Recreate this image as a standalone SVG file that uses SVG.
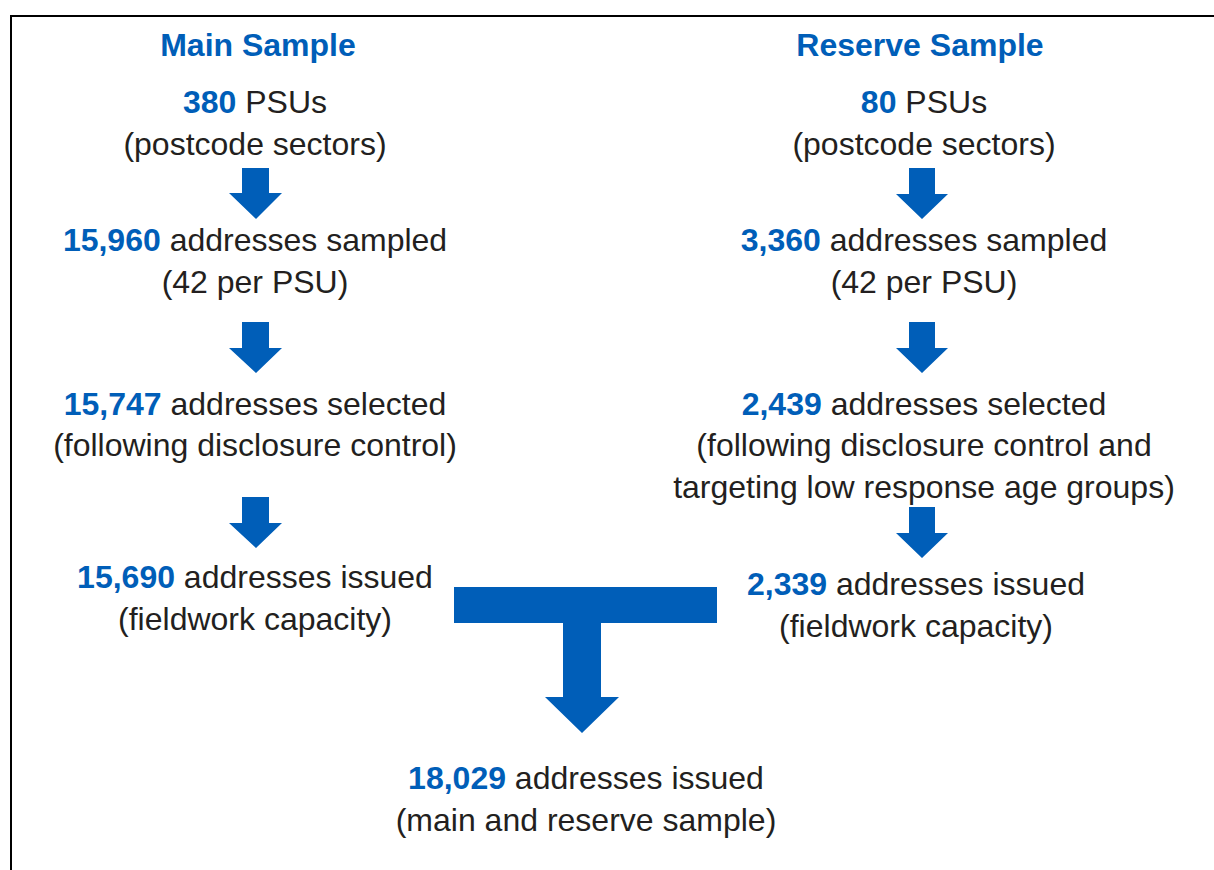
<svg xmlns="http://www.w3.org/2000/svg" width="1214" height="870" viewBox="0 0 1214 870">
<style>
text{font-family:"Liberation Sans",Arial,sans-serif;font-size:32px;fill:#231F20;text-anchor:middle}
.b{font-weight:bold;fill:#005EB8}
.arrow{fill:#005EB8}
</style>
<rect x="0" y="0" width="1214" height="870" fill="#ffffff"/>
<rect x="11" y="16" width="1220" height="880" fill="none" stroke="#000" stroke-width="2"/>
<g id="connectors">
<polygon class="arrow" points="242,168 269,168 269,193 282,193 256,219 229,193 242,193"/>
<polygon class="arrow" points="242,322 269,322 269,348 282,348 256,373 229,348 242,348"/>
<polygon class="arrow" points="242,497 269,497 269,523 282,523 256,548 229,523 242,523"/>
<polygon class="arrow" points="909,168 935,168 935,194 948,194 922,219 896,194 909,194"/>
<polygon class="arrow" points="909,322 935,322 935,348 948,348 922,373 896,348 909,348"/>
<polygon class="arrow" points="909,507 935,507 935,533 948,533 922,558 896,533 909,533"/>
<polygon class="arrow" points="454,587 717,587 717,623 601,623 601,697 619,697 582,733 545,697 563,697 563,623 454,623"/>
</g>
<g id="main-title"><text x="258" y="56" class="b">Main Sample</text></g>
<g id="reserve-title"><text x="920" y="56" class="b">Reserve Sample</text></g>
<g id="main-psu"><text x="255" y="113"><tspan class="b">380</tspan> PSUs</text><text x="255" y="155">(postcode sectors)</text></g>
<g id="main-sampled"><text x="255" y="251"><tspan class="b">15,960</tspan> addresses sampled</text><text x="255" y="293">(42 per PSU)</text></g>
<g id="main-selected"><text x="255" y="415"><tspan class="b">15,747</tspan> addresses selected</text><text x="255" y="456">(following disclosure control)</text></g>
<g id="main-issued"><text x="255" y="588"><tspan class="b">15,690</tspan> addresses issued</text><text x="255" y="630">(fieldwork capacity)</text></g>
<g id="reserve-psu"><text x="924" y="113"><tspan class="b">80</tspan> PSUs</text><text x="924" y="155">(postcode sectors)</text></g>
<g id="reserve-sampled"><text x="924" y="251"><tspan class="b">3,360</tspan> addresses sampled</text><text x="924" y="293">(42 per PSU)</text></g>
<g id="reserve-selected"><text x="924" y="415"><tspan class="b">2,439</tspan> addresses selected</text><text x="924" y="456">(following disclosure control and</text><text x="924" y="498">targeting low response age groups)</text></g>
<g id="reserve-issued"><text x="916" y="595"><tspan class="b">2,339</tspan> addresses issued</text><text x="916" y="637">(fieldwork capacity)</text></g>
<g id="total-issued"><text x="586" y="789"><tspan class="b">18,029</tspan> addresses issued</text><text x="586" y="831">(main and reserve sample)</text></g>
</svg>
